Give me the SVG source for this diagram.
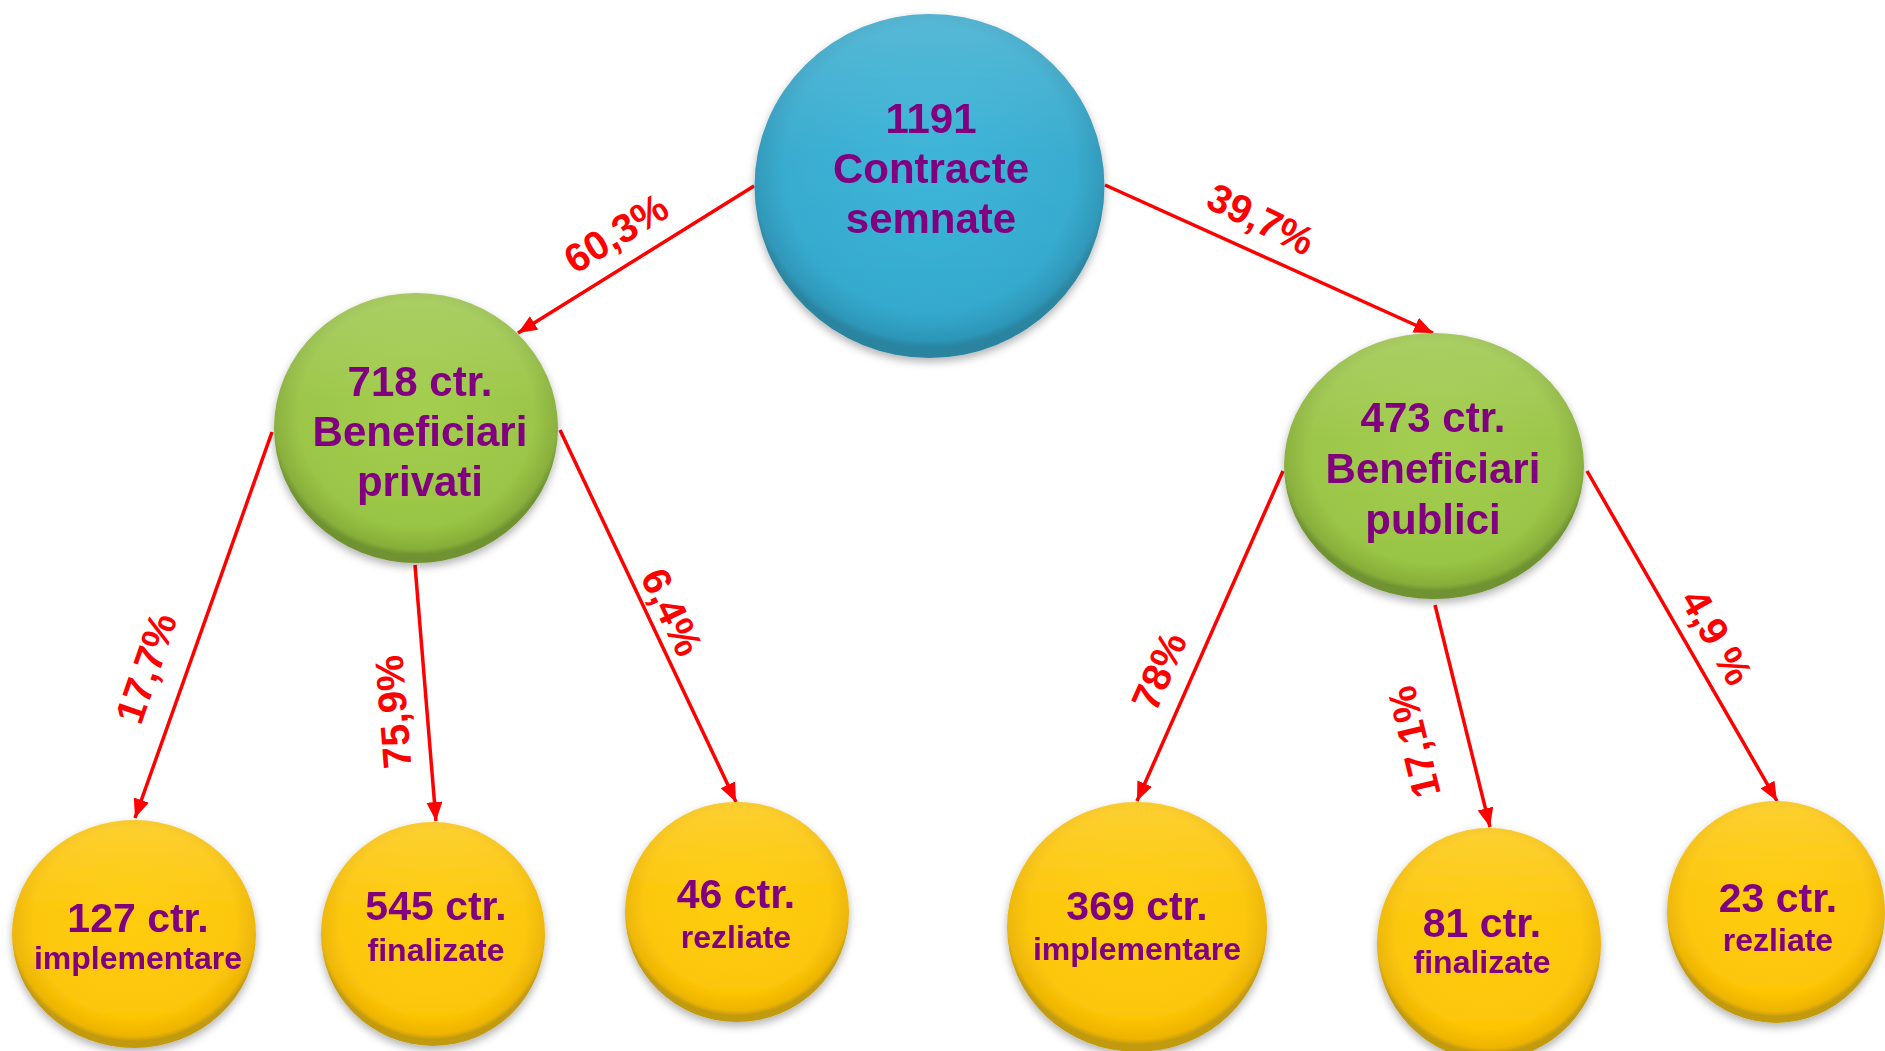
<svg xmlns="http://www.w3.org/2000/svg" width="1885" height="1051" viewBox="0 0 1885 1051">
<style>
.node-text{font-family:"Liberation Sans",Arial,sans-serif;font-weight:bold;fill:#800080;text-anchor:middle}
.big{font-size:42px}
.mid{font-size:41px}
.small{font-size:32px}
.pct{font-family:"Liberation Sans",Arial,sans-serif;font-weight:bold;font-size:40px;fill:#FF0000;text-anchor:middle;dominant-baseline:central}
.conn{stroke:#FF0000;stroke-width:3.5;fill:none;marker-end:url(#arrow)}
</style>
<defs>
<marker id="arrow" markerUnits="userSpaceOnUse" markerWidth="22" markerHeight="18" refX="19" refY="8" orient="auto">
<path d="M0,0 L19,8 L0,16 z" fill="#FF0000"/>
</marker>
<radialGradient id="gBlue" cx="50%" cy="45%" r="52%">
<stop offset="0" stop-color="#36B3D8"/>
<stop offset="0.8" stop-color="#32A9CD"/>
<stop offset="0.96" stop-color="#2C96B8"/>
<stop offset="1" stop-color="#2A84A0"/>
</radialGradient>
<radialGradient id="gGreen" cx="50%" cy="45%" r="52%">
<stop offset="0" stop-color="#A0CC48"/>
<stop offset="0.8" stop-color="#98C443"/>
<stop offset="0.96" stop-color="#86AE38"/>
<stop offset="1" stop-color="#6F9230"/>
</radialGradient>
<radialGradient id="gYellow" cx="50%" cy="45%" r="52%">
<stop offset="0" stop-color="#FFCB05"/>
<stop offset="0.8" stop-color="#FCC504"/>
<stop offset="0.96" stop-color="#EDB400"/>
<stop offset="1" stop-color="#C29A10"/>
</radialGradient>
<linearGradient id="gHi" x1="0" y1="0" x2="0" y2="1">
<stop offset="0" stop-color="#FFFFFF" stop-opacity="0.18"/>
<stop offset="0.4" stop-color="#FFFFFF" stop-opacity="0.04"/>
<stop offset="1" stop-color="#FFFFFF" stop-opacity="0"/>
</linearGradient>
<filter id="shadow" x="-10%" y="-10%" width="120%" height="125%">
<feDropShadow dx="0" dy="4" stdDeviation="4" flood-color="#000000" flood-opacity="0.3"/>
</filter>
</defs>
<rect width="1885" height="1051" fill="#FFFFFF"/>

<g id="connectors">
<line class="conn" x1="754" y1="186" x2="518" y2="333"/>
<line class="conn" x1="1105" y1="185" x2="1433" y2="333"/>
<line class="conn" x1="272" y1="432" x2="135" y2="818"/>
<line class="conn" x1="415" y1="565" x2="436" y2="821"/>
<line class="conn" x1="560" y1="430" x2="736" y2="802"/>
<line class="conn" x1="1283" y1="471" x2="1137" y2="801"/>
<line class="conn" x1="1435" y1="605" x2="1490" y2="827"/>
<line class="conn" x1="1587" y1="471" x2="1777" y2="801"/>
<text class="pct" transform="translate(616,233) rotate(-31.6)">60,3%</text>
<text class="pct" transform="translate(1261,219) rotate(26)">39,7%</text>
<text class="pct" transform="translate(146,668) rotate(-71)">17,7%</text>
<text class="pct" transform="translate(393,712) rotate(-94.5)">75,9%</text>
<text class="pct" transform="translate(672,612) rotate(64.7)">6,4%</text>
<text class="pct" transform="translate(1159,671) rotate(-66.2)">78%</text>
<text class="pct" transform="translate(1414,742) rotate(-103.7)">17,1%</text>
<text class="pct" transform="translate(1717,637) rotate(60.2)">4,9 %</text>
</g>

<g id="node-total" filter="url(#shadow)">
<ellipse cx="929.5" cy="186" rx="175" ry="172" fill="url(#gBlue)"/>
<ellipse cx="929.5" cy="186" rx="175" ry="172" fill="url(#gHi)"/>
<text class="node-text big" x="931" y="133">1191</text>
<text class="node-text big" x="931" y="183">Contracte</text>
<text class="node-text big" x="931" y="233">semnate</text>
</g>

<g id="node-privati" filter="url(#shadow)">
<ellipse cx="416" cy="428" rx="142" ry="135" fill="url(#gGreen)"/>
<ellipse cx="416" cy="428" rx="142" ry="135" fill="url(#gHi)"/>
<text class="node-text big" x="420" y="396">718 ctr.</text>
<text class="node-text big" x="420" y="446">Beneficiari</text>
<text class="node-text big" x="420" y="496">privati</text>
</g>

<g id="node-publici" filter="url(#shadow)">
<ellipse cx="1434" cy="466" rx="150" ry="133" fill="url(#gGreen)"/>
<ellipse cx="1434" cy="466" rx="150" ry="133" fill="url(#gHi)"/>
<text class="node-text big" x="1433" y="432">473 ctr.</text>
<text class="node-text big" x="1433" y="483">Beneficiari</text>
<text class="node-text big" x="1433" y="534">publici</text>
</g>

<g id="node-127" filter="url(#shadow)">
<ellipse cx="134" cy="934" rx="122" ry="114" fill="url(#gYellow)"/>
<ellipse cx="134" cy="934" rx="122" ry="114" fill="url(#gHi)"/>
<text class="node-text mid" x="138" y="932">127 ctr.</text>
<text class="node-text small" x="138" y="969">implementare</text>
</g>

<g id="node-545" filter="url(#shadow)">
<ellipse cx="433" cy="934" rx="112" ry="112" fill="url(#gYellow)"/>
<ellipse cx="433" cy="934" rx="112" ry="112" fill="url(#gHi)"/>
<text class="node-text mid" x="436" y="920">545 ctr.</text>
<text class="node-text small" x="436" y="961">finalizate</text>
</g>

<g id="node-46" filter="url(#shadow)">
<ellipse cx="737" cy="912" rx="112" ry="110" fill="url(#gYellow)"/>
<ellipse cx="737" cy="912" rx="112" ry="110" fill="url(#gHi)"/>
<text class="node-text mid" x="736" y="908">46 ctr.</text>
<text class="node-text small" x="736" y="948">rezliate</text>
</g>

<g id="node-369" filter="url(#shadow)">
<ellipse cx="1137" cy="927" rx="130" ry="125" fill="url(#gYellow)"/>
<ellipse cx="1137" cy="927" rx="130" ry="125" fill="url(#gHi)"/>
<text class="node-text mid" x="1137" y="920">369 ctr.</text>
<text class="node-text small" x="1137" y="960">implementare</text>
</g>

<g id="node-81" filter="url(#shadow)">
<ellipse cx="1489" cy="944" rx="112" ry="116" fill="url(#gYellow)"/>
<ellipse cx="1489" cy="944" rx="112" ry="116" fill="url(#gHi)"/>
<text class="node-text mid" x="1482" y="937">81 ctr.</text>
<text class="node-text small" x="1482" y="973">finalizate</text>
</g>

<g id="node-23" filter="url(#shadow)">
<ellipse cx="1776" cy="912" rx="109" ry="111" fill="url(#gYellow)"/>
<ellipse cx="1776" cy="912" rx="109" ry="111" fill="url(#gHi)"/>
<text class="node-text mid" x="1778" y="912">23 ctr.</text>
<text class="node-text small" x="1778" y="951">rezliate</text>
</g>
</svg>
